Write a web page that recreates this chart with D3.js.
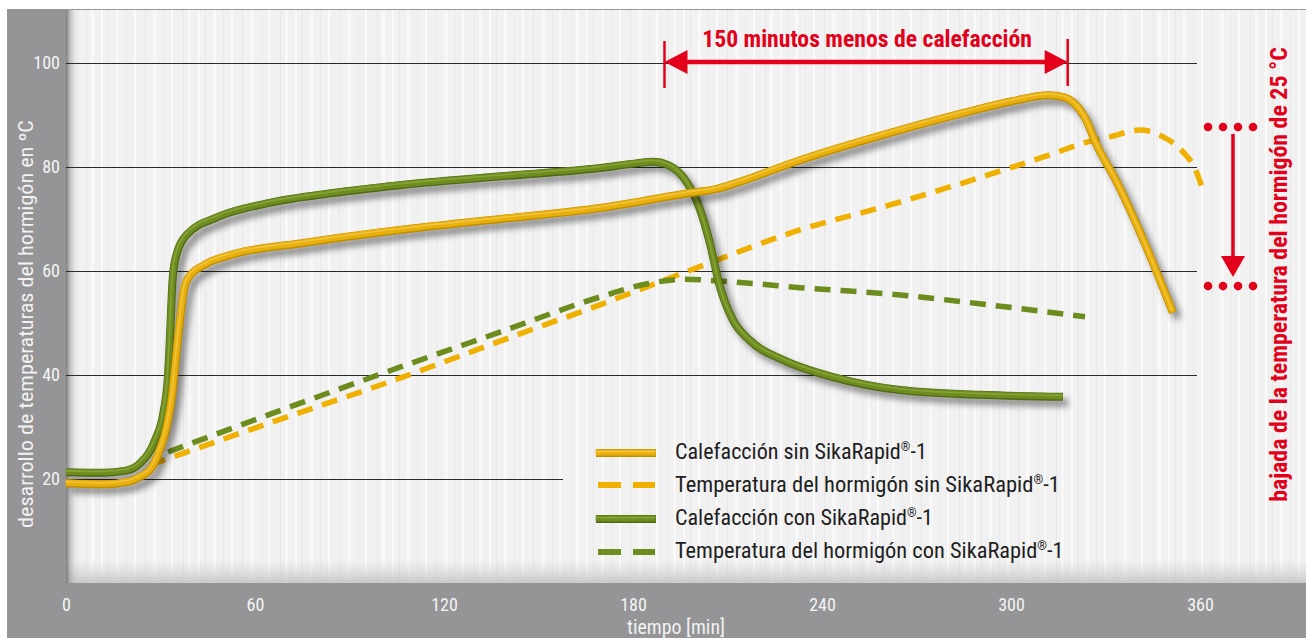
<!DOCTYPE html>
<html>
<head>
<meta charset="utf-8">
<script src="https://cdn.jsdelivr.net/npm/d3@7"></script>
<style>
  html, body { margin: 0; padding: 0; background: #ffffff; }
  svg { display: block; }
</style>
</head>
<body>
<svg id="chart" width="1306" height="638"></svg>
<script>
// ---------------- DATA ----------------
const timeTicks = [0, 60, 120, 180, 240, 300, 360];
const tempTicks = [20, 40, 60, 80, 100];

const seriesLabels = [
  "Calefacción sin SikaRapid",
  "Temperatura del hormigón sin SikaRapid",
  "Calefacción con SikaRapid",
  "Temperatura del hormigón con SikaRapid"
];

// [minutes, °C]
const heatingWithout = [
  [0,19.2],[12,19.0],[20,19.5],[23.5,20.4],[27,22],[29.8,25.6],[32,30],[33.7,36],
  [35.2,45],[36.5,52],[37.5,56.5],[39,58.8],[44,61.2],[53,63.2],[74.3,65.3],[106,67.9],
  [138,70],[169.5,72.1],[198,75],[206.7,75.8],[211.7,76.7],[233,81.3],[264.8,87.1],
  [285,90.4],[300,92.6],[312,93.8],[317,93.4],[320,92.3],[323.5,89.5],[327,84.5],
  [333.7,77],[342,66],[351.4,52]
];
const concreteWithout = [
  [26.7,22.7],[60,29.8],[106,39.4],[140,47],[169.5,53.5],[201,60.8],[233,67.9],
  [261.6,72.7],[296.5,79.2],[314,82.7],[323,84.6],[331.4,85.8],[341,87.1],[348,85.9],
  [354.6,82.9],[358.5,79.6],[360.6,76.2]
];
const heatingWith = [
  [0,21.3],[12,21.2],[19,21.6],[23.5,23],[28.3,27.5],[31,33],[32.4,40],[33.2,50],
  [33.8,58],[34.8,62.5],[38.4,67],[47.9,70.3],[63.8,73],[84.8,75],[106,76.5],[138,78.2],
  [169.5,79.8],[181,80.7],[186.5,81],[191,80.4],[196,78],[201,72.3],[204.4,65.4],
  [207.6,57],[211.7,50.6],[217,46.7],[227.6,42.9],[243.5,39.6],[264.8,37.1],[290,36.2],
  [316.5,35.8]
];
const concreteWith = [
  [32.4,25.2],[106,41.5],[138,48.3],[169.5,55],[185,57.6],[196,58.4],[211.7,57.9],
  [233,56.8],[264.8,55.4],[290,53.7],[323.5,51.2]
];

// annotations
const savedMinutes = [190, 318];       // "150 minutos menos de calefacción" span
const savedLevel = 100;                 // arrow drawn on the 100 °C line
const dropLevels = [87.7, 57.1];        // dotted marks of the 25 °C drop
const topNote = "150 minutos menos de calefacción";
const sideNote = "bajada de la temperatura del hormigón de 25 °C";
const yTitle = "desarrollo de temperaturas del hormigón en ºC";
const xTitle = "tiempo [min]";

// ---------------- DRAWING ----------------
const RED = "#e2001a";
const GRAY = "#959597";
const FONT = "'Liberation Sans Narrow','Arial Narrow','Roboto Condensed',Roboto,'Liberation Sans',Arial,sans-serif";

const svg = d3.select("#chart");
const W = 1306, H = 638;
const x = d3.scaleLinear().domain([0, 360]).range([66, 1200]);
const y = d3.scaleLinear().domain([0, 100]).range([583, 63]);

const defs = svg.append("defs");
defs.append("filter").attr("id", "blur").attr("x", "-5%").attr("y", "-5%").attr("width", "110%").attr("height", "110%")
  .append("feGaussianBlur").attr("stdDeviation", 3.2);
const lg = defs.append("linearGradient").attr("id", "leftShade").attr("x1", 0).attr("x2", 1).attr("y1", 0).attr("y2", 0);
lg.append("stop").attr("offset", 0).attr("stop-color", "#6f6f70").attr("stop-opacity", 0.9);
lg.append("stop").attr("offset", 0.35).attr("stop-color", "#9a9a9a").attr("stop-opacity", 0.45);
lg.append("stop").attr("offset", 1).attr("stop-color", "#cfcfcf").attr("stop-opacity", 0);
const bg = defs.append("linearGradient").attr("id", "bottomShade").attr("x1", 0).attr("x2", 0).attr("y1", 0).attr("y2", 1);
bg.append("stop").attr("offset", 0).attr("stop-color", "#d0d0d0").attr("stop-opacity", 0);
bg.append("stop").attr("offset", 1).attr("stop-color", "#c4c4c4").attr("stop-opacity", 0.9);

// wood-ish texture pattern
const pat = defs.append("pattern").attr("id", "wood").attr("patternUnits", "userSpaceOnUse")
  .attr("width", 97).attr("height", 640);
pat.append("rect").attr("width", 97).attr("height", 640).attr("fill", "#f1f1f1");
[[4,2,"#fafafa"],[11,1,"#e8e8e8"],[19,3,"#f8f8f8"],[29,1,"#e9e9e9"],[37,2,"#fbfbfb"],
 [48,1,"#e6e6e6"],[56,4,"#f7f7f7"],[67,1,"#ebebeb"],[74,2,"#fafafa"],[86,1,"#e7e7e7"],[91,3,"#f8f8f8"]]
  .forEach(([px, pw, c]) => pat.append("rect").attr("x", px).attr("width", pw).attr("height", 640).attr("fill", c));

// frame
svg.append("rect").attr("width", W).attr("height", H).attr("fill", "#ffffff");
svg.append("rect").attr("x", 7).attr("y", 9).attr("width", W - 7).attr("height", H - 9).attr("fill", GRAY);
svg.append("rect").attr("x", 66).attr("y", 10).attr("width", W - 66).attr("height", 573).attr("fill", "url(#wood)");
svg.append("rect").attr("x", 66).attr("y", 560).attr("width", W - 66).attr("height", 23).attr("fill", "url(#bottomShade)");
svg.append("rect").attr("x", 66).attr("y", 10).attr("width", 14).attr("height", 573).attr("fill", "url(#leftShade)");

// gridlines
const gridEnd = t => (t === 20 ? 563 : 1197);
svg.append("g").selectAll("line").data(tempTicks).join("line")
  .attr("x1", x(0)).attr("x2", d => gridEnd(d))
  .attr("y1", d => Math.round(y(d)) + 0.5).attr("y2", d => Math.round(y(d)) + 0.5)
  .attr("stroke", "#2a2a2a").attr("stroke-width", 1.1);

// measure narrow scale for numbers
const probe = svg.append("text").attr("font-family", FONT).attr("font-size", 18).text("100");
const kNum = 26.7 / probe.node().getBBox().width;
probe.remove();

// axes
const yAxis = svg.append("g").attr("transform", `translate(${x(0)},0)`)
  .call(d3.axisLeft(y).tickValues(tempTicks).tickSize(0).tickPadding(0));
yAxis.select(".domain").remove();
yAxis.selectAll("text").attr("font-family", FONT).attr("font-size", 18).attr("fill", "#f4f4f4")
  .attr("text-anchor", "end").attr("dy", "0.3em")
  .attr("x", -6 / kNum).attr("transform", `scale(${kNum},1)`);

const xAxis = svg.append("g").attr("transform", `translate(0,${y(0)})`)
  .call(d3.axisBottom(x).tickValues(timeTicks).tickSize(0).tickPadding(0));
xAxis.select(".domain").remove();
xAxis.selectAll("text").attr("font-family", FONT).attr("font-size", 18).attr("fill", "#f4f4f4")
  .attr("y", 28).attr("dy", 0).attr("transform", `scale(${kNum},1)`);

// fitted text helper
function fitText(parent, str, tx, ty, rot, target, opts) {
  const g = parent.append("g");
  const t = g.append("text").attr("font-family", FONT).attr("font-size", opts.size)
    .attr("font-weight", opts.weight || "normal").attr("fill", opts.fill)
    .attr("text-anchor", opts.anchor || "start");
  if (opts.sup) {
    t.append("tspan").text(str);
    t.append("tspan").attr("font-size", opts.size * 0.55).attr("dy", -opts.size * 0.38).text("®");
    t.append("tspan").attr("dy", opts.size * 0.38).text("-1");
  } else {
    t.text(str);
  }
  const w = t.node().getBBox().width;
  const k = target / w;
  g.attr("transform", `translate(${tx},${ty}) rotate(${rot}) scale(${k},1)`);
  return g;
}

fitText(svg, yTitle, 33, 324, -90, 408, { size: 20, fill: "#f2f2f2", anchor: "middle" });
fitText(svg, xTitle, 676, 634, 0, 98, { size: 20, fill: "#f2f2f2", anchor: "middle" });

// line generator
const line = d3.line().x(d => x(d[0])).y(d => y(d[1])).curve(d3.curveMonotoneX);

function tube(parent, pathD, c) {
  parent.append("path").attr("d", pathD).attr("fill", "none").attr("stroke", "#000")
    .attr("stroke-opacity", 0.42).attr("stroke-width", 8).attr("filter", "url(#blur)")
    .attr("transform", "translate(5,6)").attr("stroke-linejoin", "round");
  parent.append("path").attr("d", pathD).attr("fill", "none").attr("stroke", c.dark)
    .attr("stroke-width", 8).attr("stroke-linejoin", "round").attr("stroke-linecap", "butt");
  parent.append("path").attr("d", pathD).attr("fill", "none").attr("stroke", c.main)
    .attr("stroke-width", 6.2).attr("stroke-linejoin", "round").attr("transform", "translate(-0.3,-0.5)");
  parent.append("path").attr("d", pathD).attr("fill", "none").attr("stroke", c.light)
    .attr("stroke-width", 1.6).attr("stroke-opacity", 0.55).attr("transform", "translate(-0.6,-1.4)")
    .attr("stroke-linejoin", "round");
}

const YEL = { dark: "#c08e00", main: "#e9b00c", light: "#f7d566", dash: "#efb000" };
const GRN = { dark: "#4f6a12", main: "#6e8c1f", light: "#9ab648", dash: "#6d8c1e" };

const plot = svg.append("g");
// dashed concrete temperatures
plot.append("path").attr("d", line(concreteWithout)).attr("fill", "none").attr("stroke", YEL.dash)
  .attr("stroke-width", 5.5).attr("stroke-dasharray", "16,10");
plot.append("path").attr("d", line(concreteWith)).attr("fill", "none").attr("stroke", GRN.dash)
  .attr("stroke-width", 5.5).attr("stroke-dasharray", "16,10");
// heating curves
tube(plot, line(heatingWith), GRN);
tube(plot, line(heatingWithout), YEL);

// legend
const legend = svg.append("g");
const rows = [
  { label: seriesLabels[0], type: "solid", c: YEL, sy: 453, by: 459, w: 252 },
  { label: seriesLabels[1], type: "dash", c: YEL, sy: 485, by: 492, w: 385 },
  { label: seriesLabels[2], type: "solid", c: GRN, sy: 519, by: 525, w: 258 },
  { label: seriesLabels[3], type: "dash", c: GRN, sy: 552, by: 558, w: 389 }
];
rows.forEach(r => {
  if (r.type === "solid") {
    tube(legend, `M596,${r.sy}L656,${r.sy}`, r.c);
  } else {
    legend.append("path").attr("d", `M598,${r.sy}L655,${r.sy}`).attr("stroke", r.c.dash)
      .attr("stroke-width", 6).attr("stroke-dasharray", "23,12");
  }
  fitText(legend, r.label, 675, r.by, 0, r.w, { size: 22, fill: "#1e1e1e", sup: true });
});

// top annotation
const ann = svg.append("g");
const ax1 = x(savedMinutes[0]), ax2 = x(savedMinutes[1]), ay = y(savedLevel) - 1;
ann.append("line").attr("x1", ax1 + 20).attr("x2", ax2 - 20).attr("y1", ay).attr("y2", ay)
  .attr("stroke", RED).attr("stroke-width", 4.5);
ann.append("path").attr("d", `M${ax1},${ay}L${ax1 + 23},${ay - 12}L${ax1 + 23},${ay + 12}Z`).attr("fill", RED);
ann.append("path").attr("d", `M${ax2},${ay}L${ax2 - 23},${ay - 12}L${ax2 - 23},${ay + 12}Z`).attr("fill", RED);
ann.append("line").attr("x1", ax1).attr("x2", ax1).attr("y1", ay - 21).attr("y2", ay + 26)
  .attr("stroke", RED).attr("stroke-width", 2.5);
ann.append("line").attr("x1", ax2).attr("x2", ax2).attr("y1", ay - 23).attr("y2", ay + 24)
  .attr("stroke", RED).attr("stroke-width", 2.5);
fitText(ann, topNote, (ax1 + ax2) / 2 + 1, 46.5, 0, 330, { size: 23, weight: "bold", fill: RED, anchor: "middle" });

// right annotation
const dotsX = [1208, 1223, 1238, 1253];
dropLevels.forEach(v => {
  ann.selectAll(null).data(dotsX).join("circle").attr("cx", d => d).attr("cy", y(v)).attr("r", 4.3).attr("fill", RED);
});
const vTop = y(dropLevels[0]) + 7, vBot = y(dropLevels[1]) - 9;
ann.append("line").attr("x1", 1233).attr("x2", 1233).attr("y1", vTop).attr("y2", vBot - 18)
  .attr("stroke", RED).attr("stroke-width", 3.5);
ann.append("path").attr("d", `M1233,${vBot}L${1233 - 12},${vBot - 21}L${1233 + 12},${vBot - 21}Z`).attr("fill", RED);
fitText(ann, sideNote, 1287, 274.5, -90, 455, { size: 23, weight: "bold", fill: RED, anchor: "middle" });
</script>
</body>
</html>
